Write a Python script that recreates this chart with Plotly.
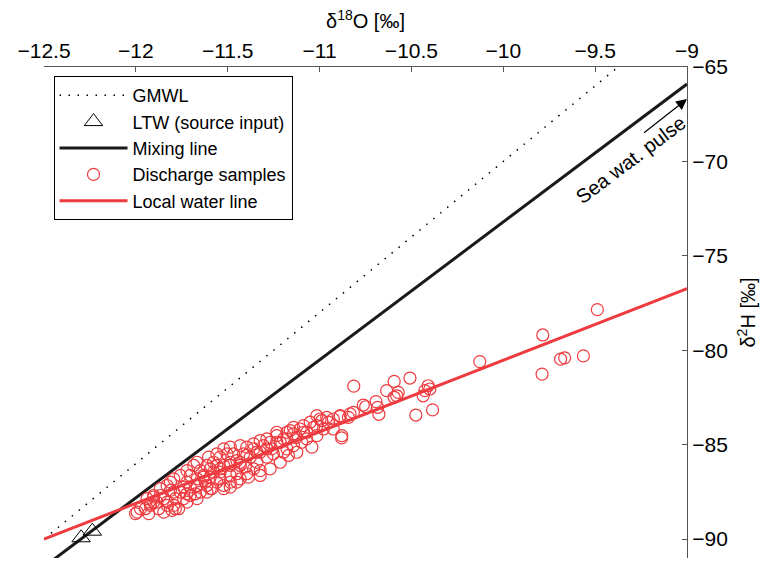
import plotly.graph_objects as go

# ---- data (δ18O, δ2H in ‰) ----
gmwl_x = [-12.5, -9.375]
gmwl_y = [-90.0, -65.0]

mix_x = [-12.45, -9.0]
mix_y = [-91.1, -65.9]

lwl_x = [-12.5, -9.0]
lwl_y = [-90.0, -76.74]

ltw_x = [-12.298, -12.237]
ltw_y = [-89.93, -89.58]

sample_x = [
    -11.015, -10.988, -10.952, -10.888, -10.834, -10.816, -10.879, -11.042, -11.070, -11.106,
    -11.124, -11.160, -11.196, -11.233, -11.214, -11.269, -11.260, -11.305, -11.323, -11.359,
    -11.396, -11.414, -11.377, -11.341, -11.287, -11.359, -11.396, -11.450, -11.486, -11.541,
    -11.522, -11.486, -11.450, -11.468, -11.504, -11.541, -11.577, -11.613, -11.631, -11.595,
    -11.649, -11.685, -11.704, -11.722, -11.667, -11.613, -11.586, -11.758, -11.794, -11.740,
    -11.830, -11.812, -11.867, -11.848, -11.903, -11.903, -11.876, -11.830, -11.794, -11.785,
    -11.740, -11.704, -11.649, -11.993, -11.948, -11.921, -11.939, -11.794, -11.758, -11.722,
    -11.667, -11.604, -11.559, -11.522, -11.486, -11.432, -11.359, -11.323, -11.287, -11.233,
    -11.178, -11.142, -11.088, -11.051, -10.997, -10.961, -10.925, -11.486, -11.522, -11.541,
    -11.323, -11.432, -11.251, -11.178, -11.142, -11.097, -11.196, -11.015, -10.979, -10.925,
    -11.033, -11.405, -11.450, -11.667, -11.622, -11.595, -11.559, -11.704, -11.676,
    -12.002, -11.975, -11.930, -11.921, -11.885, -11.867, -11.903, -11.812, -11.785, -11.767,
    -11.803, -11.848, -11.722, -11.667, -11.631, -11.577, -11.541, -11.486, -11.432, -11.396,
    -11.341, -11.287, -11.233, -11.178, -11.142, -11.088, -11.070, -11.015, -11.486, -11.432,
    -11.387, -11.323, -11.269, -11.214, -11.169, -11.124, -11.595, -11.559, -11.667, -11.613,
    -11.522, -11.722, -11.830,
    -9.488, -9.785, -9.789, -9.688, -9.666, -9.564, -10.128, -10.385, -10.476, -10.814,
    -10.508, -10.594, -10.635, -10.572, -10.580, -10.594, -10.409, -10.400, -10.427, -10.436,
    -10.693, -10.684, -10.677, -10.762, -10.749, -10.843, -10.889, -10.880,
]
sample_y = [
    -83.46, -83.73, -83.81, -83.46, -83.37, -83.29, -84.52, -85.13, -84.34, -84.17,
    -84.61, -84.25, -84.69, -84.52, -84.87, -84.87, -85.22, -85.05, -85.40, -85.22,
    -85.13, -85.49, -85.66, -85.93, -85.66, -86.28, -86.54, -86.54, -86.63, -86.81,
    -86.10, -85.93, -85.84, -85.49, -85.49, -85.66, -85.93, -86.10, -86.63, -86.72,
    -86.37, -86.10, -86.63, -86.98, -87.16, -87.16, -87.33, -87.51, -87.51, -87.25,
    -87.16, -86.98, -87.33, -87.86, -87.69, -88.04, -88.39, -88.21, -88.21, -88.39,
    -87.86, -87.69, -87.51, -88.57, -88.39, -88.21, -87.86, -86.81, -86.63, -86.37,
    -85.93, -85.66, -85.49, -85.22, -85.13, -85.05, -84.96, -84.78, -84.69, -84.34,
    -84.34, -84.08, -83.99, -83.81, -83.64, -83.55, -83.64, -87.25, -87.16, -86.45,
    -86.37, -86.10, -85.49, -85.22, -85.05, -84.87, -85.40, -84.52, -84.17, -84.17,
    -84.08, -86.19, -86.98, -86.81, -86.98, -86.28, -86.10, -87.25, -87.60,
    -88.65, -88.39, -88.65, -88.13, -88.04, -87.69, -87.77, -87.42, -87.86, -88.39,
    -88.48, -88.57, -87.60, -87.16, -86.72, -86.45, -86.28, -86.10, -85.93, -85.57,
    -85.40, -85.22, -84.87, -84.69, -84.43, -84.34, -84.69, -83.99, -86.98, -86.81,
    -86.72, -86.63, -86.28, -85.93, -85.57, -85.40, -87.33, -86.98, -87.86, -87.51,
    -87.33, -88.04, -88.04,
    -77.85, -79.19, -81.26, -80.47, -80.40, -80.30, -80.60, -83.16, -83.43, -81.90,
    -81.47, -81.65, -82.14, -82.23, -82.41, -82.49, -81.88, -82.05, -82.14, -82.41,
    -82.72, -83.02, -83.39, -82.90, -82.99, -83.55, -83.50, -84.64,
]

x_ticks = [-12.5, -12, -11.5, -11, -10.5, -10, -9.5, -9]
x_ticktext = ["\u221212.5", "\u221212", "\u221211.5", "\u221211", "\u221210.5", "\u221210", "\u22129.5", "\u22129"]
y_ticks = [-90, -85, -80, -75, -70, -65]
y_ticktext = ["\u221290", "\u221285", "\u221280", "\u221275", "\u221270", "\u221265"]

arrow_start = (-9.242, -68.54)
arrow_end = (-9.0, -66.7)
label_pos = (-9.309, -69.91)

RED = "#EE3B3F"
FONT = "Liberation Sans, Arial, sans-serif"

fig = go.Figure()
fig.add_trace(go.Scatter(x=gmwl_x, y=gmwl_y, mode="lines", name="GMWL", legendrank=1,
                         line=dict(color="black", width=1.5, dash="1.5px,7.5px")))
fig.add_trace(go.Scatter(x=mix_x, y=mix_y, mode="lines", name="Mixing line", legendrank=3,
                         line=dict(color="#1a1a1a", width=3)))
fig.add_trace(go.Scatter(x=sample_x, y=sample_y, mode="markers", name="Discharge samples", legendrank=4,
                         marker=dict(symbol="circle-open", size=12, color=RED, line=dict(width=1.2, color=RED))))
fig.add_trace(go.Scatter(x=lwl_x, y=lwl_y, mode="lines", name="Local water line", legendrank=5,
                         line=dict(color=RED, width=3)))
fig.add_trace(go.Scatter(x=ltw_x, y=ltw_y, mode="markers", name="LTW (source input)", legendrank=2,
                         marker=dict(symbol="triangle-up-open", size=16, color="black", line=dict(width=1, color="black"))))

fig.add_annotation(x=arrow_end[0], y=arrow_end[1], ax=arrow_start[0], ay=arrow_start[1],
                   xref="x", yref="y", axref="x", ayref="y", text="", showarrow=True,
                   arrowhead=2, arrowsize=1.8, arrowwidth=1.2, arrowcolor="black")
fig.add_annotation(x=label_pos[0], y=label_pos[1], xref="x", yref="y", text="Sea wat. pulse",
                   showarrow=False, textangle=-37, font=dict(size=20, color="black", family=FONT))

axis_common = dict(showgrid=False, zeroline=False, showline=True, linecolor="#555", linewidth=1,
                   ticks="inside", ticklen=5, tickcolor="#555", mirror=False,
                   tickfont=dict(size=21, color="black", family=FONT))

fig.update_layout(
    width=764, height=561,
    margin=dict(l=43.5, r=76.5, t=67, b=3, pad=0),
    paper_bgcolor="white", plot_bgcolor="white",
    font=dict(family=FONT, size=20, color="black"),
    showlegend=True,
    legend=dict(x=0.0148, y=0.9817, xanchor="left", yanchor="top", bgcolor="white",
                bordercolor="black", borderwidth=1, font=dict(size=18, family=FONT, color="black"),
                itemwidth=68, tracegroupgap=0),
    xaxis=dict(range=[-12.5, -9], side="top", tickvals=x_ticks, ticktext=x_ticktext,
               title=dict(text="\u03b4<sup>18</sup>O [\u2030]", font=dict(size=20, family=FONT), standoff=4),
               **axis_common),
    yaxis=dict(range=[-91, -65], side="right", tickvals=y_ticks, ticktext=y_ticktext,
               title=dict(text="\u03b4<sup>2</sup>H [\u2030]", font=dict(size=20, family=FONT), standoff=14),
               **axis_common),
)

fig.write_html("out.html")
